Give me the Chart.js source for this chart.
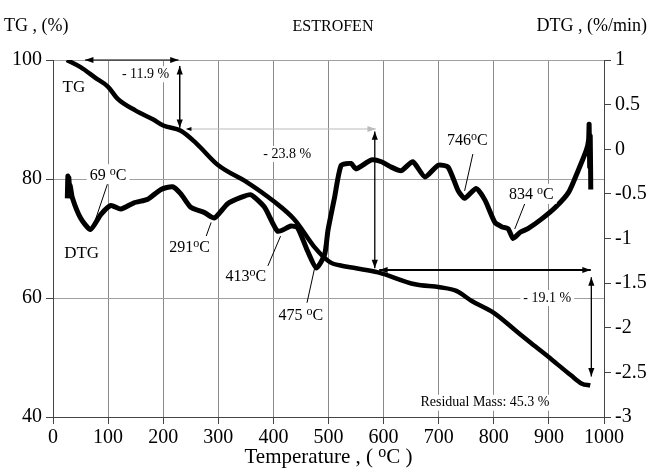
<!DOCTYPE html>
<html>
<head>
<meta charset="utf-8">
<script src="https://cdn.jsdelivr.net/npm/chart.js@4.4.1/dist/chart.umd.min.js"></script>
<style>
  html, body { margin: 0; padding: 0; background: #fff; }
  #wrap { width: 649px; height: 474px; }
</style>
</head>
<body>
<div id="wrap"><canvas id="myChart" width="649" height="474"></canvas></div>
<script>
// TG curve (mass %, left axis)
const tgTemp  = [25, 50, 77, 100, 117, 150, 182, 200, 232, 260, 300, 353, 400, 438, 475, 490, 505, 520, 550, 590, 657, 702, 732, 760, 800, 840, 868, 906, 940, 960, 975];
const tgValue = [100, 98.8, 97, 95.5, 93.5, 91.5, 90, 89, 88.1, 86, 82.3, 79.4, 76.3, 73.2, 68.5, 67, 65.9, 65.5, 65, 64.3, 62.3, 61.8, 61.2, 59.5, 57.5, 54.5, 52.4, 49.6, 47, 45.6, 45.3];

// DTG curve (%/min, right axis)
const dtgTemp  = [26, 27, 28, 29, 30, 31, 35, 50, 68, 87, 105, 123, 147, 172, 196, 217, 232, 250, 275, 293, 317, 341, 359, 384, 408, 432, 444, 462, 478, 493, 499, 511, 523, 541, 550, 578, 596, 614, 632, 653, 675, 699, 717, 735, 747, 768, 784, 802, 815, 826, 835, 848, 862, 887, 912, 936, 953, 968, 972, 973, 974, 975, 976];
const dtgValue = [-0.55, -0.3, -0.5, -0.32, -0.52, -0.4, -0.54, -0.77, -0.9, -0.73, -0.63, -0.67, -0.6, -0.56, -0.45, -0.42, -0.5, -0.65, -0.71, -0.77, -0.61, -0.54, -0.51, -0.65, -0.92, -0.86, -0.88, -1.14, -1.33, -1.18, -0.91, -0.54, -0.18, -0.16, -0.22, -0.12, -0.14, -0.2, -0.24, -0.14, -0.31, -0.18, -0.2, -0.46, -0.55, -0.44, -0.57, -0.82, -0.87, -0.89, -1.0, -0.93, -0.89, -0.78, -0.65, -0.48, -0.24, -0.01, 0.1, 0.28, -0.2, 0.15, -0.45];

const xTicks = [0, 100, 200, 300, 400, 500, 600, 700, 800, 900, 1000];

// peak labels: [text, labelT, labelTG, lineFromT, lineFromTG, lineToT, lineToTG]
const peakLabels = [
  ['69 ', 100, 80.8, 99, 79.2, 72, 71.8],
  ['291', 248, 68.7, 278, 70.4, 287, 72.7],
  ['413', 350, 63.7, 390, 65.4, 413, 70.4],
  ['475 ', 450, 57.2, 461, 59.2, 475, 65.1],
  ['746', 752, 86.6, 762, 84.2, 747, 78],
  ['834 ', 868, 77.5, 856, 75.8, 838, 71.6]
];

const SERIF = '"Liberation Serif", "Times New Roman", serif';

function arrowHead(ctx, x1, y1, x2, y2, size) {
  const a = Math.atan2(y2 - y1, x2 - x1);
  ctx.beginPath();
  ctx.moveTo(x2, y2);
  ctx.lineTo(x2 - size * Math.cos(a - 0.35), y2 - size * Math.sin(a - 0.35));
  ctx.lineTo(x2 - size * Math.cos(a + 0.35), y2 - size * Math.sin(a + 0.35));
  ctx.closePath();
  ctx.fill();
}

function arrow(ctx, x1, y1, x2, y2, color, width, both) {
  ctx.save();
  ctx.strokeStyle = color;
  ctx.fillStyle = color;
  ctx.lineWidth = width;
  ctx.beginPath();
  ctx.moveTo(x1, y1);
  ctx.lineTo(x2, y2);
  ctx.stroke();
  arrowHead(ctx, x1, y1, x2, y2, 9);
  if (both) arrowHead(ctx, x2, y2, x1, y1, 9);
  ctx.restore();
}

function boxText(ctx, text, x, y, size) {
  ctx.save();
  ctx.font = size + 'px ' + SERIF;
  const w = ctx.measureText(text).width;
  ctx.fillStyle = '#fff';
  ctx.fillRect(x - w / 2 - 3, y - size / 2 - 1, w + 6, size + 2);
  ctx.fillStyle = '#000';
  ctx.textAlign = 'center';
  ctx.textBaseline = 'middle';
  ctx.fillText(text, x, y);
  ctx.restore();
}

// "291 oC" with a raised small o
function degText(ctx, prefix, x, y, size, bg) {
  ctx.save();
  const small = Math.round(size * 0.75);
  ctx.font = size + 'px ' + SERIF;
  const w1 = ctx.measureText(prefix).width;
  const w3 = ctx.measureText('C').width;
  ctx.font = small + 'px ' + SERIF;
  const w2 = ctx.measureText('o').width;
  const total = w1 + w2 + w3;
  let sx = x - total / 2;
  if (bg) {
    ctx.fillStyle = '#fff';
    ctx.fillRect(sx - 3, y - size / 2 - 2, total + 6, size + 4);
  }
  ctx.fillStyle = '#000';
  ctx.textBaseline = 'alphabetic';
  ctx.textAlign = 'left';
  const base = y + size * 0.33;
  ctx.font = size + 'px ' + SERIF;
  ctx.fillText(prefix, sx, base);
  ctx.font = small + 'px ' + SERIF;
  ctx.fillText('o', sx + w1, base - size * 0.3);
  ctx.font = size + 'px ' + SERIF;
  ctx.fillText('C', sx + w1 + w2, base);
  ctx.restore();
}

const annotations = {
  id: 'annotations',
  afterDatasetsDraw(chart) {
    const ctx = chart.ctx;
    const sx = chart.scales.x, sy = chart.scales.y;
    const X = v => sx.getPixelForValue(v);
    const Y = v => sy.getPixelForValue(v);

    // headers
    ctx.save();
    ctx.fillStyle = '#000';
    ctx.textBaseline = 'middle';
    ctx.font = '18px ' + SERIF;
    ctx.textAlign = 'left';
    ctx.fillText('TG , (%)', 4, 26);
    ctx.textAlign = 'right';
    ctx.fillText('DTG , (%/min)', 647, 26);
    ctx.textAlign = 'center';
    ctx.font = '16px ' + SERIF;
    ctx.fillText('ESTROFEN', 333, 27);
    ctx.restore();

    // x axis title
    ctx.save();
    const ts = 21, tsm = 16;
    ctx.font = ts + 'px ' + SERIF;
    const a = 'Temperature , ( ', c = 'C )';
    const wa = ctx.measureText(a).width, wc = ctx.measureText(c).width;
    ctx.font = tsm + 'px ' + SERIF;
    const wo = ctx.measureText('o').width;
    let tx = (sx.left + sx.right) / 2 - (wa + wo + wc) / 2;
    const tb = 463;
    ctx.fillStyle = '#000';
    ctx.textAlign = 'left';
    ctx.font = ts + 'px ' + SERIF;
    ctx.fillText(a, tx, tb);
    ctx.font = tsm + 'px ' + SERIF;
    ctx.fillText('o', tx + wa, tb - 6);
    ctx.font = ts + 'px ' + SERIF;
    ctx.fillText(c, tx + wa + wo, tb);
    ctx.restore();

    // mass loss steps
    arrow(ctx, X(58), Y(100), X(228), Y(100), '#000', 1.2, true);
    arrow(ctx, X(230), Y(99), X(230), Y(88.6), '#000', 1.5, true);
    boxText(ctx, '- 11.9 %', X(168), Y(97.6), 14);

    arrow(ctx, X(243), Y(88.4), X(586), Y(88.4), '#bbb', 1.2, false);
    arrowHead(ctx, X(586), Y(88.4), X(241), Y(88.4), 6);
    boxText(ctx, '- 23.8 %', X(425), Y(84.2), 14);
    arrow(ctx, X(584), Y(88), X(584), Y(65), '#000', 1.3, true);

    arrow(ctx, X(592), Y(64.7), X(976), Y(64.7), '#000', 2, true);
    arrow(ctx, X(977), Y(63.5), X(977), Y(46.8), '#000', 1.3, true);
    boxText(ctx, '- 19.1 %', X(897), Y(60), 14);

    boxText(ctx, 'Residual Mass: 45.3 %', X(784), Y(42.4), 14);
    boxText(ctx, 'TG', X(38), Y(95.3), 17);
    boxText(ctx, 'DTG', X(52), Y(67.4), 17);

    // peak temperatures with leader lines
    peakLabels.forEach(p => {
      ctx.save();
      ctx.strokeStyle = '#000';
      ctx.lineWidth = 1;
      ctx.beginPath();
      ctx.moveTo(X(p[3]), Y(p[4]));
      ctx.lineTo(X(p[5]), Y(p[6]));
      ctx.stroke();
      ctx.restore();
      degText(ctx, p[0], X(p[1]), Y(p[2]), 16, true);
    });
  }
};

const ctx = document.getElementById('myChart').getContext('2d');
const myChart = new Chart(ctx, {
  type: 'line',
  data: {
    datasets: [{
      label: 'TG',
      data: tgTemp.map((t, i) => ({x: t, y: tgValue[i]})),
      yAxisID: 'y',
      borderColor: '#000',
      borderWidth: 4.5,
      pointRadius: 0,
      cubicInterpolationMode: 'monotone'
    }, {
      label: 'DTG',
      data: dtgTemp.map((t, i) => ({x: t, y: dtgValue[i]})),
      yAxisID: 'y2',
      borderColor: '#000',
      borderWidth: 5,
      pointRadius: 0,
      tension: 0.2
    }]
  },
  options: {
    responsive: false,
    animation: false,
    layout: { padding: { top: 60, left: 0, right: 0, bottom: 0 } },
    plugins: { legend: { display: false }, tooltip: { enabled: false } },
    scales: {
      x: {
        type: 'linear',
        min: 0, max: 1000,
        afterBuildTicks: s => { s.ticks = xTicks.map(v => ({value: v})); },
        afterFit: s => { s.height = 57; },
        ticks: { color: '#000', font: { family: SERIF, size: 20 }, padding: 2, maxRotation: 0, callback: v => String(v) },
        grid: { display: true, drawOnChartArea: true, color: '#8a8a8a', lineWidth: 1, tickColor: '#444', tickLength: 7 },
        border: { color: '#444', width: 1 }
      },
      y: {
        position: 'left',
        min: 40, max: 100,
        ticks: { stepSize: 20, color: '#000', font: { family: SERIF, size: 20 }, padding: 4, callback: v => String(v) },
        afterFit: s => { s.width = 53; },
        grid: { display: true, drawOnChartArea: true, color: '#a0a0a0', lineWidth: 1, tickColor: '#444', tickLength: 7 },
        border: { color: '#444', width: 1 }
      },
      y2: {
        position: 'right',
        min: -3, max: 1,
        ticks: { stepSize: 0.5, color: '#000', font: { family: SERIF, size: 20 }, padding: 4, callback: v => String(v) },
        afterFit: s => { s.width = 45; },
        grid: { drawOnChartArea: false, tickColor: '#444', tickLength: 7 },
        border: { color: '#444', width: 1 }
      }
    }
  },
  plugins: [annotations]
});
</script>
</body>
</html>
